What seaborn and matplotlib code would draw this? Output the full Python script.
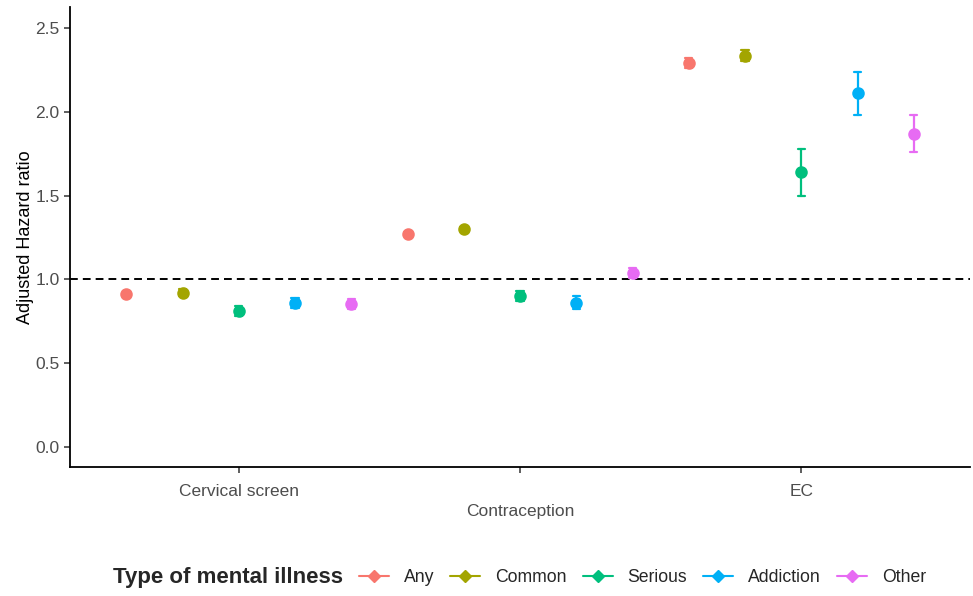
import numpy as np
import pandas as pd
import matplotlib
matplotlib.use("Agg")
import matplotlib.pyplot as plt
from matplotlib.lines import Line2D
from matplotlib.ticker import FormatStrFormatter
import seaborn as sns

# outcomes on the x axis and illness groups (hue)
outcomes = ["Cervical screen", "Contraception", "EC"]
groups = ["Any", "Common", "Serious", "Addiction", "Other"]
colors = ["#F8766D", "#A3A500", "#00BF7D", "#00B0F6", "#E76BF3"]

# adjusted hazard ratios and 95% CI, rows = outcome, cols = group
hr = [[0.91, 0.92, 0.81, 0.86, 0.85],
      [1.27, 1.30, 0.90, 0.86, 1.04],
      [2.29, 2.33, 1.64, 2.11, 1.87]]
lo = [[0.89, 0.90, 0.78, 0.83, 0.82],
      [1.26, 1.29, 0.87, 0.82, 1.01],
      [2.26, 2.30, 1.50, 1.98, 1.76]]
hi = [[0.93, 0.94, 0.84, 0.89, 0.88],
      [1.28, 1.31, 0.93, 0.90, 1.07],
      [2.32, 2.37, 1.78, 2.24, 1.98]]

y_ticks = [0.0, 0.5, 1.0, 1.5, 2.0, 2.5]

# long table: lower, estimate, upper per point so the median is the estimate
rows = []
for i, oc in enumerate(outcomes):
    for j, g in enumerate(groups):
        for v in (lo[i][j], hr[i][j], hi[i][j]):
            rows.append({"outcome": oc, "group": g, "value": v})
df = pd.DataFrame(rows)

sns.set_style("ticks")
plt.rcParams["font.family"] = ["Liberation Sans", "DejaVu Sans"]

fig = plt.figure(figsize=(9.73, 5.96), dpi=100)
ax = fig.add_axes([70 / 973, 129 / 596, 900 / 973, 460 / 596])

sns.pointplot(data=df, x="outcome", y="value", hue="group",
              order=outcomes, hue_order=groups, palette=colors,
              estimator="median", errorbar=lambda v: (v.min(), v.max()),
              dodge=0.8, linestyle="none", markers="o", markersize=7,
              capsize=0.025, err_kws={"linewidth": 1.6}, legend=False, ax=ax)

ax.axhline(1.0, color="black", linestyle=(0, (4, 2.6)), linewidth=1.4, zorder=0)

ax.set_xlim(-0.6, 2.6)
ax.set_ylim(-0.12, 2.625)
ax.set_yticks(y_ticks)
ax.yaxis.set_major_formatter(FormatStrFormatter("%.1f"))
ax.set_xticks(range(len(outcomes)))
ax.set_xticklabels([("\n" + t if k % 2 else t) for k, t in enumerate(outcomes)],
                   linespacing=1.45)
ax.set_xlabel("")
ax.set_ylabel("Adjusted Hazard ratio", fontsize=13, color="black", labelpad=1)
ax.tick_params(axis="both", labelsize=12.5, labelcolor="#4D4D4D", length=4,
               width=1.1, color="#333333")
ax.tick_params(axis="x", pad=8)
for s in ["top", "right"]:
    ax.spines[s].set_visible(False)
for s in ["left", "bottom"]:
    ax.spines[s].set_linewidth(1.3)
    ax.spines[s].set_color("black")

# legend along the bottom
fig.text(113 / 973, 18 / 596, "Type of mental illness", fontsize=16,
         fontweight="bold", va="center", ha="left")
handles = [Line2D([], [], color=c, marker="D", markersize=6, linewidth=1.5)
           for c in colors]
fig.legend(handles, groups, loc="center left", ncol=5,
           bbox_to_anchor=(359 / 973, 18 / 596), frameon=False,
           fontsize=12.7, handlelength=1.7, handletextpad=0.85,
           columnspacing=0.9, borderaxespad=0, borderpad=0)

fig.savefig("out.png", dpi=100)
